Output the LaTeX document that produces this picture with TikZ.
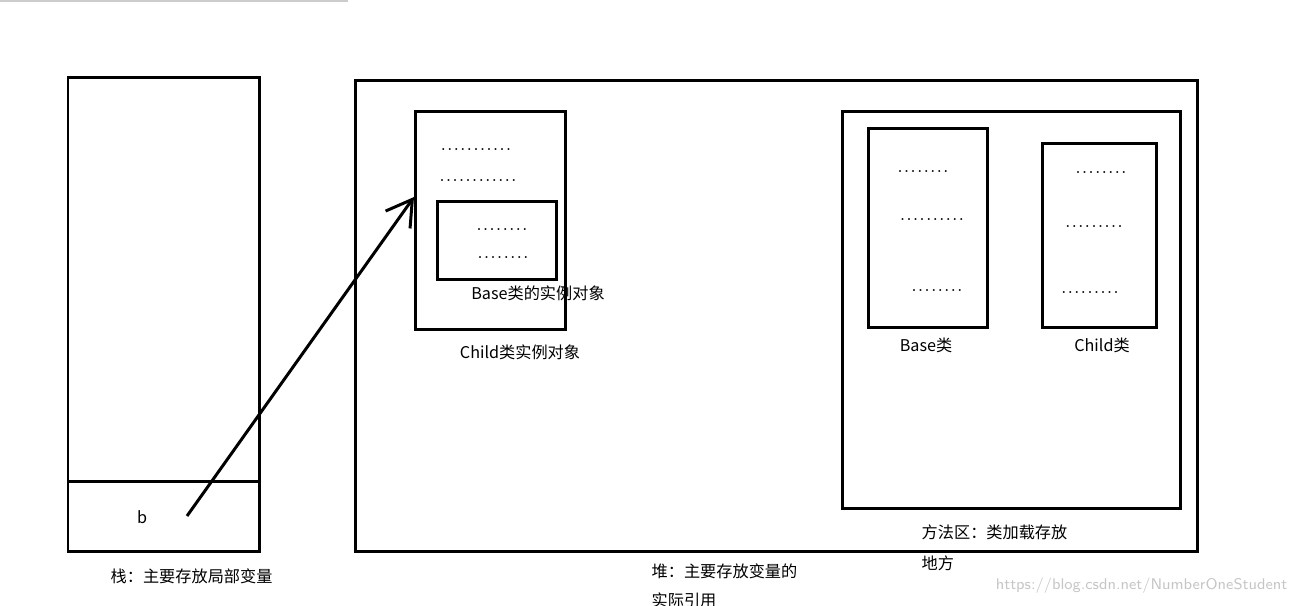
\documentclass[tikz,border=0pt]{standalone}
\usepackage{fontspec}
\newfontfamily\cjk{Noto Sans CJK SC}
\usetikzlibrary{positioning, arrows.meta}
\tikzset{
  box/.style={draw, line width=0.85pt},
  lbl/.style={font=\cjk\fontsize{4.6}{5.5}\selectfont, inner sep=0pt},
  dots/.style={font=\fontsize{4.6}{5.5}\selectfont, inner sep=0pt}
}
\begin{document}
\begin{tikzpicture}[x=0.01cm, y=-0.01cm]
    \useasboundingbox (0,0) rectangle (1298,605);
    \draw[gray!40, line width=0.3pt] (0,1) -- (348,1);
    % stack
    \draw[box] (68,77) rectangle (259,551);
    \draw[box] (68,481) -- (260,481);
    \node[lbl] (b) at (142,517) {b};
    \node[lbl, anchor=west] (stacklbl) at (110,576) {栈：主要存放局部变量};
    % heap
    \draw[box] (355,80) rectangle (1197,551);
    \node[lbl, anchor=west] (heaplbl) at (651,571) {堆：主要存放变量的};
    \node[lbl, anchor=west] (heaplbl2) at (651,600) {实际引用};
    % child instance
    \draw[box] (415,111) rectangle (565,329);
    \coordinate (childin) at (414,197);
    \node[dots] at (476,149) {...........};
    \node[dots] at (478,180) {............};
    \draw[box] (437,201) rectangle (556,279);
    \node[dots] at (502,229) {........};
    \node[dots] at (503,257) {........};
    \node[lbl] (baseobj) at (538,293) {Base类的实例对象};
    \node[lbl] (childobj) at (520,352) {Child类实例对象};
    % method area
    \draw[box] (842,111) rectangle (1180,508);
    \draw[box] (868,128) rectangle (987,327);
    \node[dots] at (923,171) {........};
    \node[dots] at (932,219) {..........};
    \node[dots] at (937,290) {........};
    \node[lbl] (basecls) at (926,345) {Base类};
    \draw[box] (1042,143) rectangle (1156,327);
    \node[dots] at (1101,172) {........};
    \node[dots] at (1094,226) {.........};
    \node[dots] at (1090,292) {.........};
    \node[lbl] (childcls) at (1102,345) {Child类};
    \node[lbl, anchor=west] (methlbl) at (921,532) {方法区：类加载存放};
    \node[lbl, anchor=west] (methlbl2) at (921,563) {地方};
    % reference
    \coordinate (bref) at (187,516);
    \draw[line width=0.85pt, -{Straight Barb[length=2.5mm, width=3mm]}] (bref) -- (childin);
    \node[lbl, text=gray!45, anchor=east, font=\sffamily\fontsize{4.4}{5}\selectfont] (wm) at (1288,586) {https://blog.csdn.net/NumberOneStudent};
\end{tikzpicture}
\end{document}
